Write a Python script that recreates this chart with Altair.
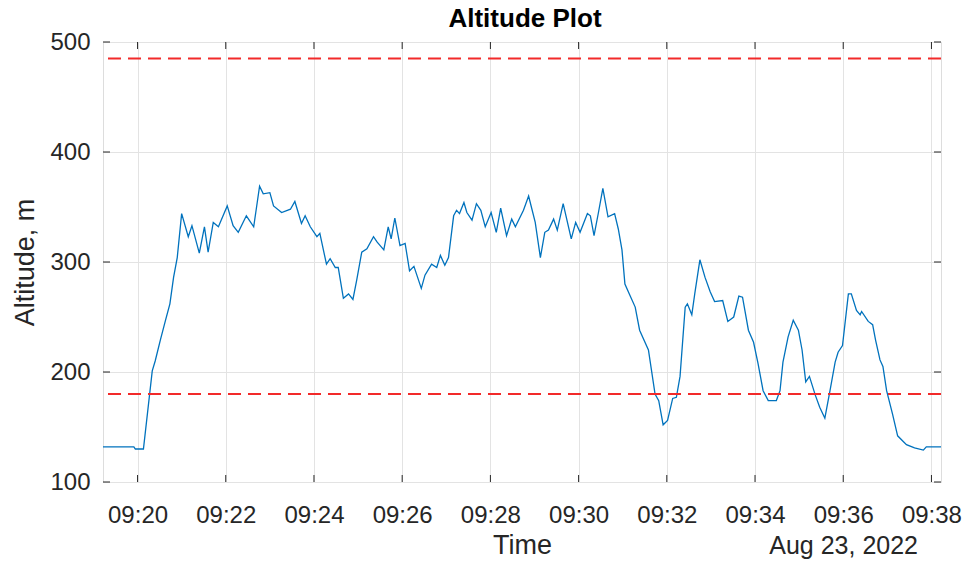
import altair as alt
import pandas as pd

# Flight altitude log, 23 Aug 2022
day = "2022-08-23"
times = [
    "09:19:13", "09:19:55", "09:19:57", "09:20:08", "09:20:20", "09:20:24", "09:20:31", "09:20:38",
    "09:20:44", "09:20:49", "09:20:54", "09:21:00", "09:21:09", "09:21:14", "09:21:24", "09:21:31",
    "09:21:36", "09:21:43", "09:21:50", "09:22:02", "09:22:10", "09:22:17", "09:22:28", "09:22:38",
    "09:22:46", "09:22:51", "09:23:00", "09:23:05", "09:23:16", "09:23:28", "09:23:34", "09:23:43",
    "09:23:48", "09:23:55", "09:24:04", "09:24:08", "09:24:17", "09:24:22", "09:24:29", "09:24:33",
    "09:24:40", "09:24:47", "09:24:53", "09:24:58", "09:25:05", "09:25:12", "09:25:21", "09:25:26",
    "09:25:35", "09:25:41", "09:25:45", "09:25:50", "09:25:57", "09:26:04", "09:26:10", "09:26:16",
    "09:26:26", "09:26:31", "09:26:40", "09:26:47", "09:26:52", "09:26:58", "09:27:03", "09:27:10",
    "09:27:14", "09:27:18", "09:27:24", "09:27:28", "09:27:35", "09:27:41", "09:27:47", "09:27:53",
    "09:28:01", "09:28:08", "09:28:14", "09:28:22", "09:28:29", "09:28:34", "09:28:45", "09:28:52",
    "09:29:01", "09:29:08", "09:29:14", "09:29:19", "09:29:26", "09:29:31", "09:29:39", "09:29:50",
    "09:29:56", "09:30:02", "09:30:12", "09:30:16", "09:30:21", "09:30:27", "09:30:33", "09:30:40",
    "09:30:49", "09:30:54", "09:30:59", "09:31:03", "09:31:09", "09:31:17", "09:31:23", "09:31:35",
    "09:31:44", "09:31:49", "09:31:55", "09:32:01", "09:32:08", "09:32:13", "09:32:18", "09:32:25",
    "09:32:28", "09:32:34", "09:32:38", "09:32:45", "09:32:52", "09:32:59", "09:33:05", "09:33:16",
    "09:33:23", "09:33:31", "09:33:38", "09:33:43", "09:33:51", "09:33:58", "09:34:04", "09:34:11",
    "09:34:18", "09:34:29", "09:34:34", "09:34:38", "09:34:45", "09:34:52", "09:34:59", "09:35:04",
    "09:35:09", "09:35:14", "09:35:22", "09:35:28", "09:35:35", "09:35:42", "09:35:49", "09:35:53",
    "09:35:59", "09:36:07", "09:36:11", "09:36:18", "09:36:23", "09:36:25", "09:36:34", "09:36:40",
    "09:36:44", "09:36:50", "09:36:54", "09:36:59", "09:37:07", "09:37:14", "09:37:26", "09:37:37",
    "09:37:49", "09:37:53", "09:38:13",
]
altitude = [
    132, 132, 130, 130, 201, 210, 229, 247,
    262, 286, 304, 344, 323, 333, 308, 332,
    309, 336, 332, 351, 333, 327, 342, 332,
    369, 362, 363, 351, 345, 348, 355, 335,
    342, 332, 323, 326, 298, 303, 295, 295,
    267, 271, 266, 283, 309, 312, 323, 318,
    311, 332, 321, 340, 315, 317, 292, 296,
    276, 288, 298, 295, 306, 297, 304, 342,
    347, 344, 354, 345, 338, 353, 347, 332,
    345, 327, 349, 324, 339, 332, 347, 360,
    336, 304, 327, 329, 339, 329, 353, 321,
    336, 327, 344, 342, 324, 345, 367, 341,
    344, 330, 311, 280, 271, 259, 238, 220,
    180, 174, 152, 156, 176, 177, 196, 259,
    262, 252, 271, 302, 286, 273, 264, 265,
    246, 250, 269, 268, 238, 227, 208, 183,
    174, 174, 183, 209, 232, 247, 238, 220,
    191, 196, 179, 168, 158, 183, 209, 218,
    224, 271, 271, 256, 252, 255, 246, 243,
    229, 211, 205, 183, 162, 142, 134, 131,
    129, 132, 132,
]

# Altitude limits shown as dashed reference lines
limits = [485, 180]

# Axis ticks
x_ticks = ["09:20", "09:22", "09:24", "09:26", "09:28", "09:30", "09:32", "09:34", "09:36", "09:38"]
y_ticks = [100, 200, 300, 400, 500]
x_range = ["09:19:13", "09:38:13"]
y_range = [100, 500]

title_text = "Altitude Plot"
date_text = "Aug 23, 2022"

W, H = 838, 440
INK = "#262626"
FONT = "Liberation Sans"

flight = pd.DataFrame({
    "time": pd.to_datetime([f"{day} {t}" for t in times]),
    "alt": altitude,
})
limit_df = pd.DataFrame({"alt": limits})
xt_df = pd.DataFrame({"time": pd.to_datetime([f"{day} {t}" for t in x_ticks])})
yt_df = pd.DataFrame({"alt": y_ticks})


def dt(s):
    h, m, *rest = [int(v) for v in s.split(":")]
    return alt.DateTime(year=2022, month=8, date=23, hours=h, minutes=m,
                        seconds=rest[0] if rest else 0)


x_scale = alt.Scale(domain=[dt(x_range[0]), dt(x_range[1])], nice=False)
y_scale = alt.Scale(domain=y_range, nice=False, zero=False)

x_axis = alt.Axis(
    title="Time", values=[dt(t) for t in x_ticks], format="%H:%M",
    grid=True, gridColor="#e3e3e3", gridWidth=1,
    domain=False, ticks=False, tickSize=0, labelPadding=21,
    labelFontSize=24, labelColor=INK, labelFont=FONT,
    titleFontSize=27, titleColor=INK, titleFont=FONT, titleFontWeight="normal",
    titlePadding=5,
)
y_axis = alt.Axis(
    title="Altitude, m", values=y_ticks,
    grid=True, gridColor="#e3e3e3", gridWidth=1,
    domain=False, ticks=False, tickSize=0, labelPadding=13,
    labelFontSize=24, labelColor=INK, labelFont=FONT,
    titleFontSize=27, titleColor=INK, titleFont=FONT, titleFontWeight="normal",
    titlePadding=10,
)

X = alt.X("time:T", scale=x_scale, axis=x_axis)
Y = alt.Y("alt:Q", scale=y_scale, axis=y_axis)

line = alt.Chart(flight).mark_line(color="#0072bd", strokeWidth=1.3).encode(x=X, y=Y)

limit_lines = alt.Chart(limit_df).mark_rule(
    color="#f22a2a", strokeWidth=1.8, strokeDash=[13, 7]
).encode(y=Y)

TL = 7  # inward tick length
tick_style = dict(color=INK, strokeWidth=1)
x_tick_bottom = alt.Chart(xt_df).mark_rule(**tick_style).encode(
    x=X, y=alt.value(H), y2=alt.value(H - TL))
x_tick_top = alt.Chart(xt_df).mark_rule(**tick_style).encode(
    x=X, y=alt.value(0), y2=alt.value(TL))
y_tick_left = alt.Chart(yt_df).mark_rule(**tick_style).encode(
    y=Y, x=alt.value(0), x2=alt.value(TL))
y_tick_right = alt.Chart(yt_df).mark_rule(**tick_style).encode(
    y=Y, x=alt.value(W), x2=alt.value(W - TL))

date_label = alt.Chart(pd.DataFrame({"txt": [date_text]})).mark_text(
    align="right", baseline="alphabetic", fontSize=25, font=FONT, color=INK
).encode(text="txt:N", x=alt.value(815), y=alt.value(512))

title_label = alt.Chart(pd.DataFrame({"txt": [title_text]})).mark_text(
    align="center", baseline="alphabetic", fontSize=26, font=FONT,
    fontWeight="bold", color="#000000"
).encode(text="txt:N", x=alt.value(W / 2 + 3), y=alt.value(-15))

chart = alt.layer(
    line, limit_lines, x_tick_bottom, x_tick_top, y_tick_left, y_tick_right,
    date_label, title_label
).properties(
    width=W, height=H,
    padding={"left": 103, "top": 42, "right": 25, "bottom": 81},
    autosize=alt.AutoSizeParams(type="none"),
).configure_view(
    stroke=INK, strokeWidth=1
).configure(background="white")

chart.save("out.html", embed_options={"renderer": "svg", "actions": False})
